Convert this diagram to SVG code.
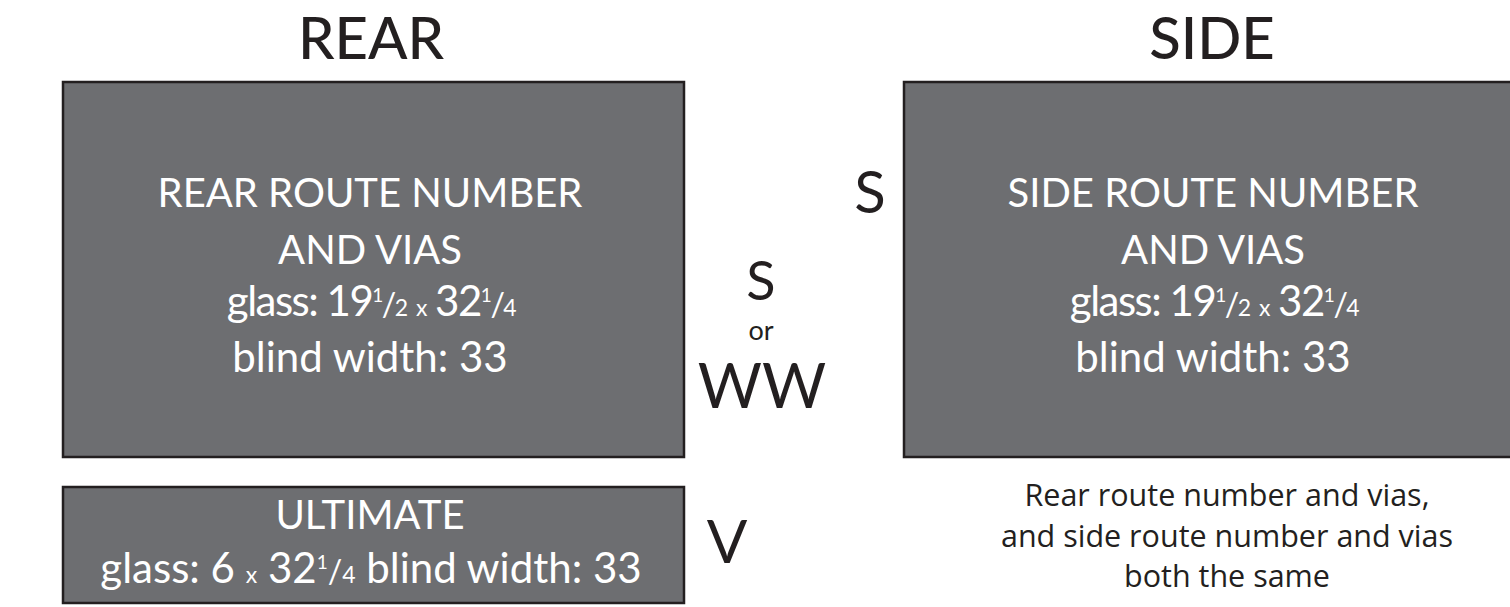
<svg xmlns="http://www.w3.org/2000/svg" width="1510" height="607" viewBox="0 0 1510 607">
<style>
.box{fill:#6d6e71;stroke:#231f20;stroke-width:2.5}
.bt{font-family:Lato,"Open Sans",sans-serif;fill:#ffffff;text-anchor:middle;font-size:40px}
.lo{font-size:42px}
.gl{letter-spacing:-1.5px}
.dk{font-family:Lato,"Open Sans",sans-serif;fill:#231f20;text-anchor:middle}
.cap{font-family:"Open Sans","Noto Sans",sans-serif;fill:#231f20;text-anchor:middle;font-size:30.5px}
.sm{font-size:23px}
.sl{font-size:32px}
.sup{font-size:19px}
</style>
<rect width="1510" height="607" fill="#ffffff"/>
<text class="dk" x="371" y="59" font-size="58" font-weight="500">REAR</text>
<text class="dk" x="1212" y="59" font-size="58" font-weight="500">SIDE</text>
<g id="rear">
<rect class="box" x="63" y="82" width="621" height="375"/>
<text class="bt" x="370" y="207">REAR ROUTE NUMBER</text>
<text class="bt" x="370" y="264">AND VIAS</text>
<text class="bt lo gl" x="371" y="316">glass: 19<tspan class="sup" dy="-14">1</tspan><tspan class="sl" dy="14">/</tspan><tspan class="sm">2</tspan> <tspan class="sm">x</tspan> 32<tspan class="sup" dy="-14">1</tspan><tspan class="sl" dy="14">/</tspan><tspan class="sm">4</tspan></text>
<text class="bt lo" x="370" y="372">blind width: 33</text>
</g>
<g id="side">
<rect class="box" x="904" y="82" width="610" height="375"/>
<text class="bt" x="1213" y="207">SIDE ROUTE NUMBER</text>
<text class="bt" x="1213" y="264">AND VIAS</text>
<text class="bt lo gl" x="1214" y="316">glass: 19<tspan class="sup" dy="-14">1</tspan><tspan class="sl" dy="14">/</tspan><tspan class="sm">2</tspan> <tspan class="sm">x</tspan> 32<tspan class="sup" dy="-14">1</tspan><tspan class="sl" dy="14">/</tspan><tspan class="sm">4</tspan></text>
<text class="bt lo" x="1213" y="372">blind width: 33</text>
</g>
<g id="ultimate">
<rect class="box" x="63" y="487" width="621" height="116"/>
<text class="bt" x="370" y="529">ULTIMATE</text>
<text class="bt lo" x="371" y="583">glass: 6 <tspan class="sm">x</tspan> 32<tspan class="sup" dy="-14">1</tspan><tspan class="sl" dy="14">/</tspan><tspan class="sm">4</tspan> blind width: 33</text>
</g>
<g id="labels">
<text class="dk" x="870" y="213" font-size="58">S</text>
<text class="dk" x="761" y="300" font-size="54">S</text>
<text class="dk" x="761" y="340" font-size="27">or</text>
<text class="dk" x="762" y="408" font-size="62">WW</text>
<text class="dk" x="727" y="563" font-size="60">V</text>
</g>
<g id="note">
<text class="cap" x="1227" y="506">Rear route number and vias,</text>
<text class="cap" x="1227" y="547">and side route number and vias</text>
<text class="cap" x="1227" y="587">both the same</text>
</g>
<g id="connectors"/>
</svg>
